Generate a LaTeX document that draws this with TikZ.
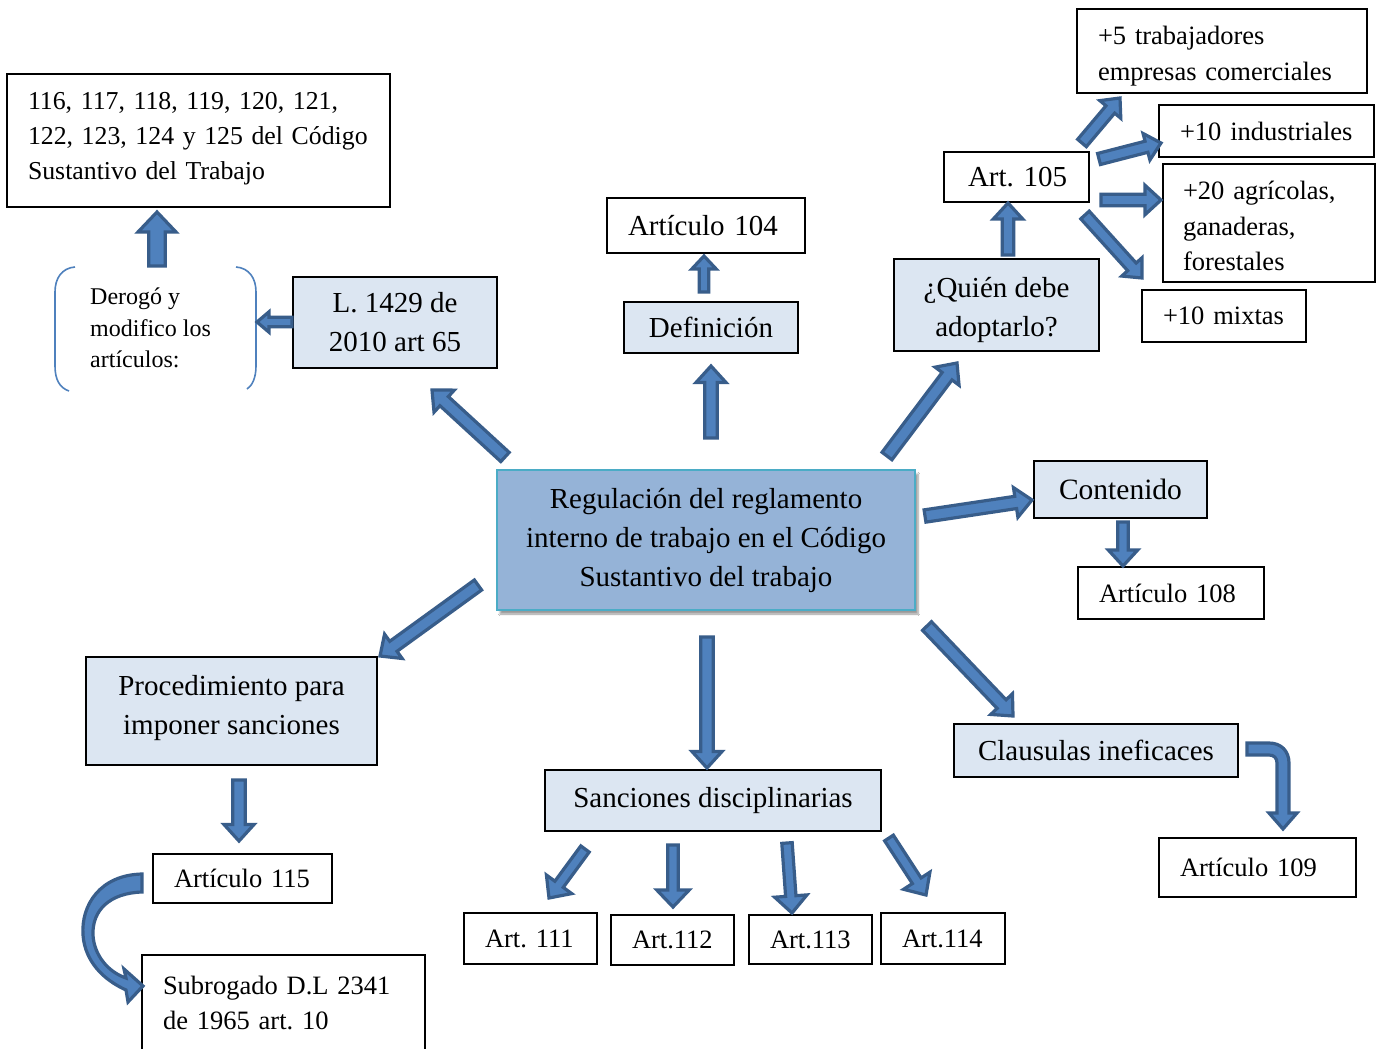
\documentclass[tikz,border=0pt]{standalone}
\usepackage{fontspec}
\setmainfont{Liberation Serif}
\usetikzlibrary{calc,shadows.blur}
\definecolor{lblue}{HTML}{DCE6F2}
\definecolor{cfill}{HTML}{95B3D7}
\definecolor{cline}{HTML}{4BACC6}
\definecolor{afill}{HTML}{4F81BD}
\definecolor{aline}{HTML}{385D8A}
\newcommand{\FsBig}{\fontsize{29pt}{39pt}\selectfont}
\newcommand{\FsMed}{\fontsize{26.5pt}{35.3pt}\selectfont}
\newcommand{\FsSml}{\fontsize{24pt}{31.5pt}\selectfont}
\tikzset{
  blockarrow/.style={fill=afill, draw=aline, line width=3.2pt, line join=miter},
  wbox/.style={draw=black, line width=1.2pt, fill=white, inner xsep=21pt, inner ysep=4pt, align=left, font=\FsMed},
  bbox/.style={draw=black, line width=1.2pt, fill=lblue, inner ysep=4pt, align=center, font=\FsBig},
  cbox/.style={draw=cline, line width=2pt, fill=cfill, inner ysep=4pt, align=center, font=\FsBig,
     blur shadow={shadow xshift=3pt, shadow yshift=-4pt, shadow blur steps=6, shadow opacity=40}},
  brack/.style={draw=afill, line width=1.6pt}
}
% block arrow: tail, tip, shaft half width, head half width, head length
\newcommand{\BlkArrow}[5]{%
  \coordinate (bah) at ($(#2)!#5!(#1)$);
  \filldraw[blockarrow] ($(#1)!#3!90:(#2)$) -- ($(bah)!#3!-90:(#1)$) -- ($(bah)!#4!-90:(#1)$) -- (#2)
     -- ($(bah)!#4!90:(#1)$) -- ($(bah)!#3!90:(#1)$) -- ($(#1)!#3!-90:(#2)$) -- cycle;}
\newcommand{\StdArrow}[2]{\BlkArrow{#1}{#2}{6.2pt}{15pt}{16.5pt}}
\begin{document}
\frenchspacing
\begin{tikzpicture}[x=1pt,y=-1pt]
\useasboundingbox (0,0) rectangle (1379,1049);
\clip (0,0) rectangle (1379,1049);
\fill[white] (0,0) rectangle (1379,1049);

% ---------- nodes ----------
\node[wbox, font=\fontsize{25.8pt}{35pt}\selectfont, minimum width=383pt, minimum height=133pt, text width=341pt, text height=18pt, text depth=80pt] (b116) at (198.5,140.5)
  {\mbox{116, 117, 118, 119, 120, 121,}\\\mbox{122, 123, 124 y 125 del Código}\\\mbox{Sustantivo del Trabajo}};
\node[font=\FsSml, align=left, anchor=west, inner sep=0pt] (derog) at (90,328)
  {Derogó y\\modifico los\\artículos:};
\node[bbox, minimum width=204pt, minimum height=91pt] (l1429) at (395,322.5) {L. 1429 de\\2010 art 65};
\node[wbox, minimum width=198pt, minimum height=55pt, text width=156pt, font=\FsBig] (a104) at (706,225.5) {\mbox{Artículo 104}};
\node[bbox, minimum width=174pt, minimum height=51pt] (def) at (711,327.5) {Definición};
\node[bbox, minimum width=205pt, minimum height=92pt, text height=68.3pt, text depth=6.3pt] (quien) at (996.5,305) {¿Quién debe\\adoptarlo?};
\node[wbox, minimum width=145pt, minimum height=50pt, inner xsep=24pt, text width=97pt, font=\FsBig] (a105) at (1016.5,177) {\mbox{Art. 105}};
\node[wbox, minimum width=290pt, minimum height=84pt, text width=248pt, text height=29pt, text depth=41pt] (p5) at (1222,51) {+5 trabajadores\\empresas comerciales};
\node[wbox, minimum width=215pt, minimum height=52pt, text width=173pt] (p10i) at (1266.5,131) {\mbox{+10 industriales}};
\node[wbox, minimum width=212pt, minimum height=118pt, inner xsep=20pt, text width=172pt, text height=24pt, text depth=70.6pt] (p20) at (1269,223) {+20 agrícolas,\\ganaderas,\\forestales};
\node[wbox, minimum width=164pt, minimum height=52pt, text width=122pt] (p10m) at (1224,316) {\mbox{+10 mixtas}};
\node[cbox, minimum width=418pt, minimum height=140pt] (cen) at (706,540)
  {Regulación del reglamento\\interno de trabajo en el Código\\Sustantivo del trabajo};
\node[bbox, minimum width=173pt, minimum height=57pt, font=\fontsize{29.5pt}{39pt}\selectfont] (cont) at (1120.5,489.5) {Contenido};
\node[wbox, minimum width=186pt, minimum height=52pt, text width=144pt] (a108) at (1171,593) {\mbox{Artículo 108}};
\node[bbox, minimum width=284pt, minimum height=53pt] (claus) at (1096,750.5) {Clausulas ineficaces};
\node[wbox, minimum width=197pt, minimum height=59pt, text width=155pt] (a109) at (1257.5,867.5) {\mbox{Artículo 109}};
\node[bbox, minimum width=291pt, minimum height=108pt, text height=58.8pt, text depth=12.8pt] (proc) at (231.5,711) {Procedimiento para\\imponer sanciones};
\node[wbox, minimum width=179pt, minimum height=49pt, text width=137pt] (a115) at (242.5,878.5) {\mbox{Artículo 115}};
\node[wbox, minimum width=283pt, minimum height=96pt, text width=241pt] (sub) at (283.5,1003) {Subrogado D.L 2341\\de 1965 art. 10};
\node[bbox, minimum width=336pt, minimum height=61pt] (sanc) at (713,800.5) {Sanciones disciplinarias};
\node[wbox, minimum width=133pt, minimum height=51pt, text width=91pt] (a111) at (530.5,938.5) {\mbox{Art. 111}};
\node[wbox, minimum width=123pt, minimum height=50pt, text width=81pt] (a112) at (672.5,940) {\mbox{Art.112}};
\node[wbox, minimum width=123pt, minimum height=49pt, text width=81pt] (a113) at (810.5,939.5) {\mbox{Art.113}};
\node[wbox, minimum width=124pt, minimum height=51pt, text width=82pt] (a114) at (943,938.5) {\mbox{Art.114}};

% ---------- bracket around derog ----------
\draw[brack] (75,267) .. controls (62,268) and (55,278) .. (55,292) -- (55,366)
   .. controls (55,380) and (60,388) .. (69,391);
\draw[brack] (236,267) .. controls (249,268) and (256,278) .. (256,292) -- (256,366)
   .. controls (256,378) and (252,386) .. (247,389);

% ---------- arrow end points ----------
\coordinate (t1) at (157,266);  \coordinate (h1) at (157,212);
\coordinate (t2) at (292,322);  \coordinate (h2) at (257,322);
\coordinate (t3) at (505,457);  \coordinate (h3) at (432,390);
\coordinate (t4) at (711,438);  \coordinate (h4) at (711,366);
\coordinate (t5) at (704,292);  \coordinate (h5) at (704,256);
\coordinate (t6) at (887,456);  \coordinate (h6) at (957,363);
\coordinate (t7) at (1008,255); \coordinate (h7) at (1008,203);
\coordinate (t8) at (1082,143); \coordinate (h8) at (1120,98);
\coordinate (t9) at (1099,159); \coordinate (h9) at (1161,143);
\coordinate (t10) at (1101,200); \coordinate (h10) at (1161,200);
\coordinate (t11) at (1085,215); \coordinate (h11) at (1142,278);
\coordinate (t12) at (925,516); \coordinate (h12) at (1032,500);
\coordinate (t13) at (1123,522); \coordinate (h13) at (1123,566);
\coordinate (t14) at (927,626); \coordinate (h14) at (1013,716);
\coordinate (t15) at (707,637); \coordinate (h15) at (707,768);
\coordinate (t16) at (478,585); \coordinate (h16) at (380,656);
\coordinate (t17) at (239,780); \coordinate (h17) at (239,841);
\coordinate (t18) at (585,849); \coordinate (h18) at (549,898);
\coordinate (t19) at (673,845); \coordinate (h19) at (673,907);
\coordinate (t20) at (787,843); \coordinate (h20) at (792,913);
\coordinate (t21) at (889,838); \coordinate (h21) at (926,895);

% ---------- straight block arrows ----------
\BlkArrow{t1}{h1}{8.2pt}{19pt}{20pt}
\BlkArrow{t2}{h2}{4.7pt}{10.2pt}{12pt}
\StdArrow{t3}{h3}
\StdArrow{t4}{h4}
\BlkArrow{t5}{h5}{4.7pt}{12.2pt}{13pt}
\StdArrow{t6}{h6}
\BlkArrow{t7}{h7}{5.7pt}{14.7pt}{16pt}
\BlkArrow{t8}{h8}{5.7pt}{13.7pt}{15pt}
\BlkArrow{t9}{h9}{5.7pt}{13.7pt}{15pt}
\BlkArrow{t10}{h10}{5.7pt}{14.7pt}{16pt}
\BlkArrow{t11}{h11}{5.7pt}{13.7pt}{15pt}
\StdArrow{t12}{h12}
\BlkArrow{t13}{h13}{5.2pt}{14.7pt}{16pt}
\StdArrow{t14}{h14}
\StdArrow{t15}{h15}
\StdArrow{t16}{h16}
\StdArrow{t17}{h17}
\BlkArrow{t18}{h18}{5.2pt}{15.7pt}{17pt}
\BlkArrow{t19}{h19}{5.2pt}{16.2pt}{17pt}
\BlkArrow{t20}{h20}{5.2pt}{16.2pt}{17pt}
\BlkArrow{t21}{h21}{5.2pt}{15.7pt}{17pt}

% ---------- bent arrow Clausulas -> Articulo 109 ----------
\coordinate (c1) at (1247,749); \coordinate (c2) at (1283,829);
\filldraw[blockarrow] ($(c1)+(0,-6)$) -- ($(c1)+(22,-6)$)
  .. controls ($(c1)+(34,-6)$) and ($(c1)+(42,2)$) .. ($(c1)+(42,14)$)
  -- ($(c1)+(42,64)$) -- ($(c1)+(50,64)$) -- (c2) -- ($(c1)+(22,64)$) -- ($(c1)+(30,64)$)
  -- ($(c1)+(30,14)$) .. controls ($(c1)+(30,9)$) and ($(c1)+(27,6)$) .. ($(c1)+(22,6)$)
  -- ($(c1)+(0,6)$) -- cycle;

% ---------- curved arrow Articulo 115 -> Subrogado ----------
\coordinate (c3) at (142,883); \coordinate (c4) at (143,986);
\filldraw[blockarrow] ($(c3)+(0,-9)$) .. controls (100,875) and (81,905) .. (83,935)
  .. controls (85,962) and (104,980) .. (126,990) -- (128,1002) -- (c4) -- (124,969)
  -- (126,978) .. controls (108,972) and (94,955) .. (93,935)
  .. controls (92,910) and (110,893) .. ($(c3)+(0,9)$) -- cycle;
\end{tikzpicture}
\end{document}
